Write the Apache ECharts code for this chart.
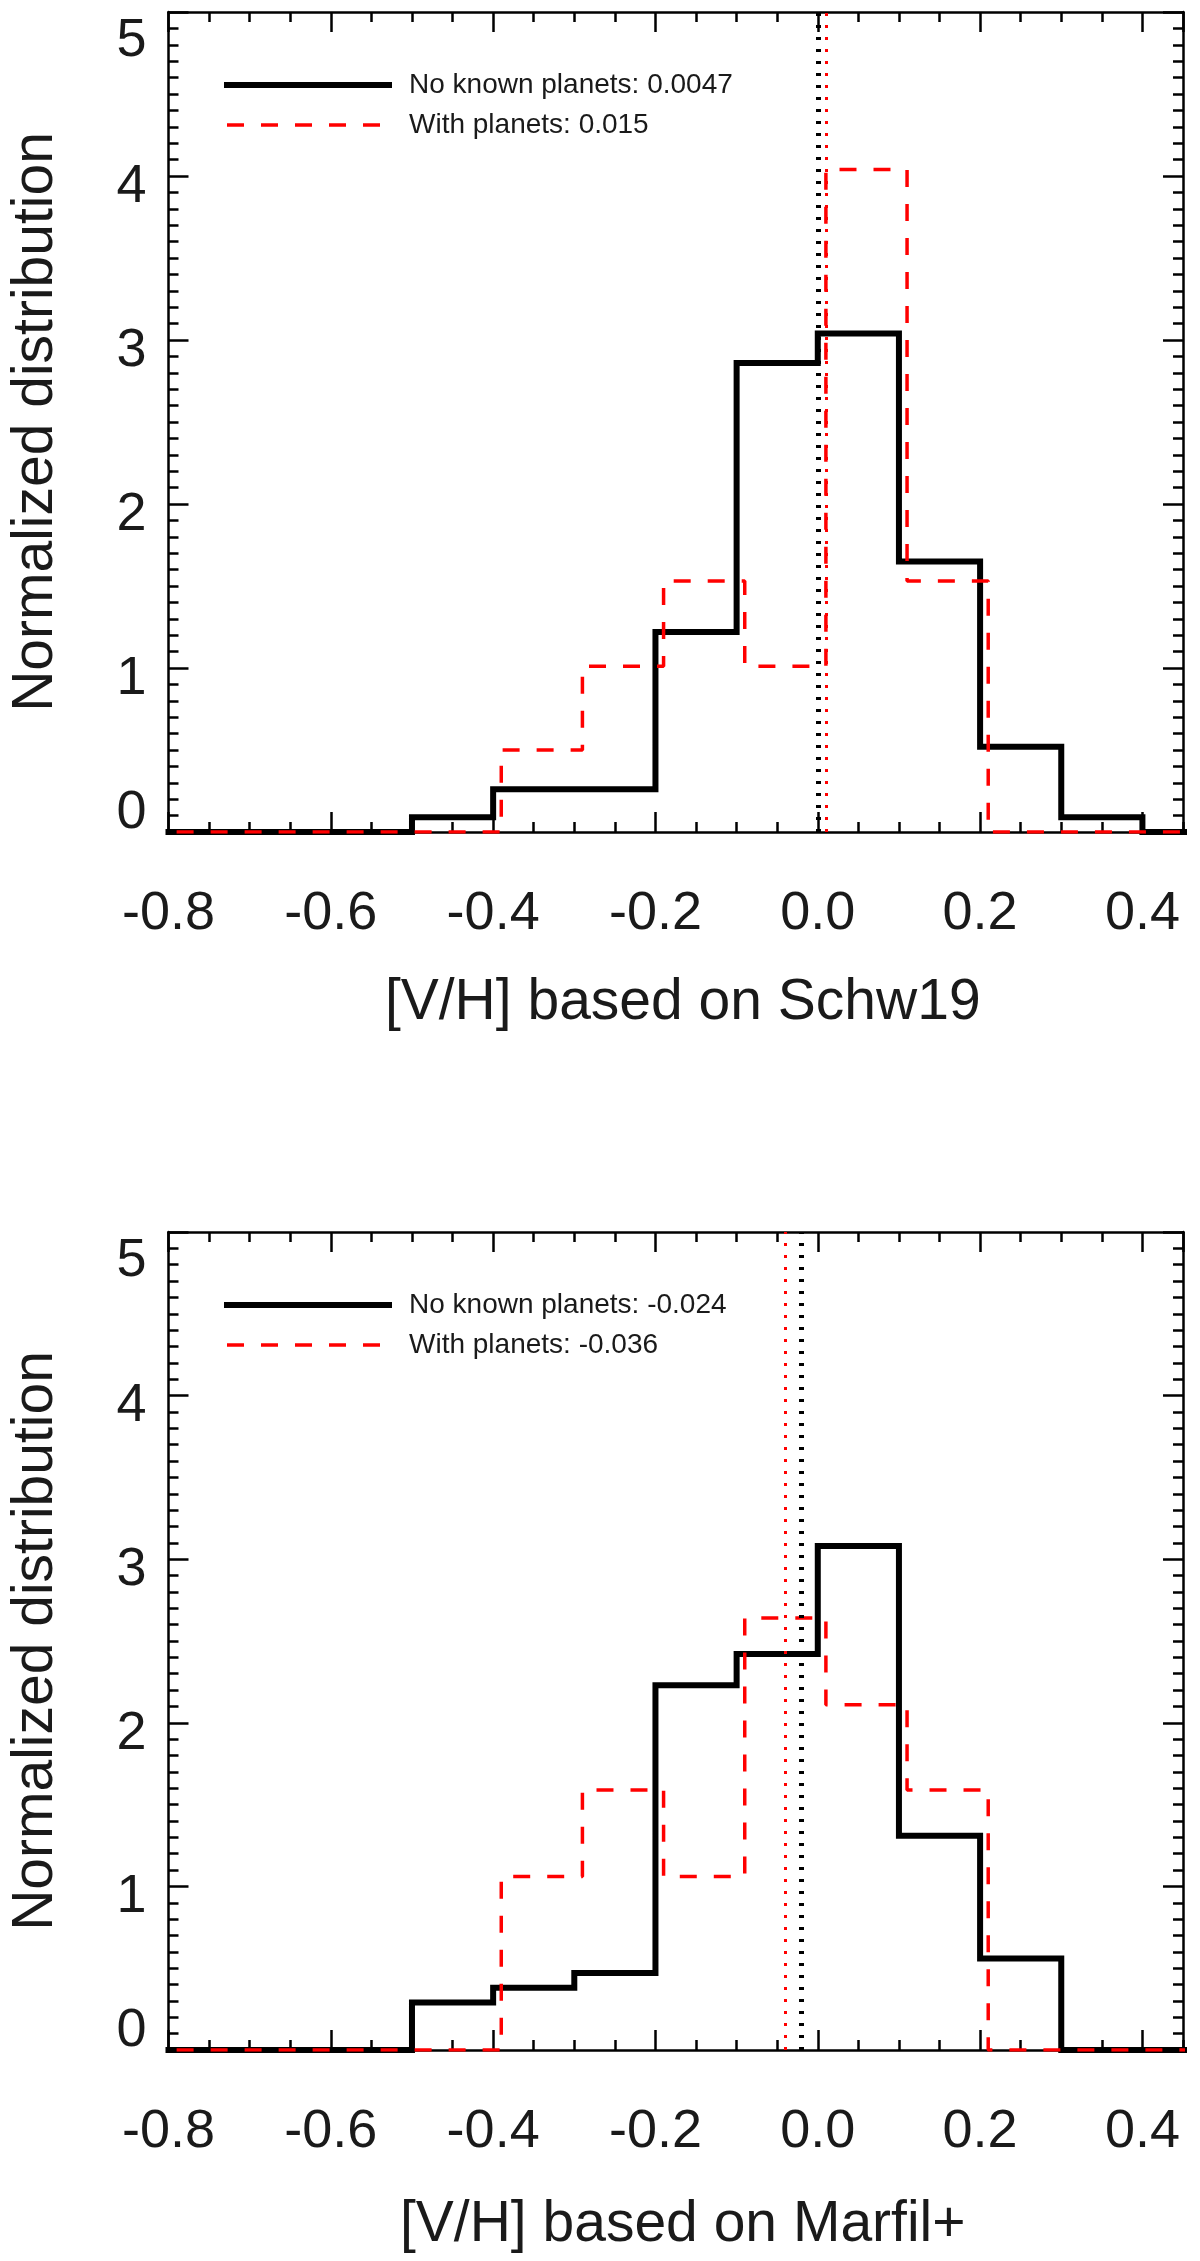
<!DOCTYPE html>
<html><head><meta charset="utf-8">
<script src="https://cdn.jsdelivr.net/npm/echarts@6/dist/echarts.min.js"></script>
<style>html,body{margin:0;padding:0;background:#fff}#c{width:1200px;height:2261px}</style>
</head><body><div id="c"></div>
<script>
// ---- data ----
const binLefts = [-0.8,-0.7,-0.6,-0.5,-0.4,-0.3,-0.2,-0.1,0.0,0.1,0.2,0.3,0.4];
const binWidth = 0.1;
const redShift = 0.01;
const schwNoPlanets   = [0,0,0,0.09,0.26,0.26,1.22,2.86,3.04,1.65,0.52,0.09,0];
const schwWithPlanets = [0,0,0,0,0.50,1.01,1.53,1.01,4.04,1.53,0,0,0];
const marfNoPlanets   = [0,0,0,0.29,0.38,0.47,2.23,2.42,3.08,1.31,0.56,0,0];
const marfWithPlanets = [0,0,0,0,1.06,1.59,1.06,2.64,2.11,1.59,0,0,0];
const meanNoPlanets   = [0.0047, -0.024];
const meanWithPlanets = [0.015, -0.036];
const legendNo   = ['No known planets: 0.0047', 'No known planets: -0.024'];
const legendWith = ['With planets: 0.015', 'With planets: -0.036'];
const xTitles = ['[V/H] based on Schw19', '[V/H] based on Marfil+'];
const yTitle = 'Normalized distribution';
const xMin = -0.8, xMax = 0.45, xMajor = 0.2, xMinor = 0.05;
const yMin = 0, yMax = 5, yMajor = 1;

// ---- build ----
const FONT = '"Liberation Sans", Arial, Helvetica, sans-serif';
const TXT = '#1a1a1a';
function histData(vals, shift) {
  const r = v => Math.round(v * 1000) / 1000;
  const pts = vals.map((v, i) => [r(binLefts[i] + shift), v]);
  pts.push([r(binLefts[binLefts.length - 1] + binWidth + shift), vals[vals.length - 1]]);
  return pts;
}
const panels = [
  {no: schwNoPlanets, wi: schwWithPlanets},
  {no: marfNoPlanets, wi: marfWithPlanets}
];
const grids = [
  {left: 161, top: 12, width: 1022, height: 820},
  {left: 161, top: 1232, width: 1022, height: 818}
];
const titleGaps = [171, 175];
const axLine = {show: true, onZero: false, lineStyle: {color: '#000', width: 2.5}};
const noLine = {show: false, onZero: false};
const xAxis = [], yAxis = [], series = [], legend = [];
panels.forEach((p, g) => {
  const base = {gridIndex: g, type: 'value', min: xMin, max: xMax, splitLine: {show: false}};
  xAxis.push(Object.assign({}, base, {
    position: 'bottom', interval: xMajor, axisLine: axLine,
    axisTick: {inside: true, length: 20, lineStyle: {color: '#000', width: 2.5}},
    axisLabel: {fontSize: 54, fontFamily: FONT, color: TXT, margin: 82, verticalAlign: 'middle',
      showMaxLabel: false, formatter: v => (v > 0.44 ? '' : v.toFixed(1))},
    name: xTitles[g], nameLocation: 'middle', nameGap: titleGaps[g],
    nameTextStyle: {fontSize: 57, fontFamily: FONT, color: TXT, verticalAlign: 'middle', padding: [0, 0, 0, 14]}
  }));
  xAxis.push(Object.assign({}, base, {
    position: 'bottom', interval: xMinor, axisLine: noLine,
    axisTick: {inside: true, length: 10, lineStyle: {color: '#000', width: 2.5}},
    axisLabel: {show: false}
  }));
  xAxis.push(Object.assign({}, base, {
    position: 'top', interval: xMajor, axisLine: axLine,
    axisTick: {inside: true, length: 20, lineStyle: {color: '#000', width: 2.5}},
    axisLabel: {show: false}
  }));
  xAxis.push(Object.assign({}, base, {
    position: 'top', interval: xMinor, axisLine: noLine,
    axisTick: {inside: true, length: 10, lineStyle: {color: '#000', width: 2.5}},
    axisLabel: {show: false}
  }));
  const ybase = {gridIndex: g, type: 'value', min: yMin, max: yMax, interval: yMajor, splitLine: {show: false},
    axisLine: axLine,
    axisTick: {inside: true, length: 20, lineStyle: {color: '#000', width: 2.5}},
    minorTick: {show: true, splitNumber: 10, length: 10, lineStyle: {color: '#000', width: 2.5}}};
  yAxis.push(Object.assign({}, ybase, {
    position: 'left',
    axisLabel: {fontSize: 54, fontFamily: FONT, color: TXT, margin: 22,
      formatter: v => v === yMax ? '{t|' + v + '}' : (v === yMin ? '{b|' + v + '}' : '{m|' + v + '}'),
      rich: {
        t: {fontSize: 54, fontFamily: FONT, color: TXT, padding: [58, 0, 0, 0]},
        m: {fontSize: 54, fontFamily: FONT, color: TXT, padding: [22, 0, 0, 0]},
        b: {fontSize: 54, fontFamily: FONT, color: TXT, padding: [0, 0, 38, 0]}
      }},
    name: yTitle, nameLocation: 'middle', nameGap: 132, nameRotate: 90,
    nameTextStyle: {fontSize: 57, fontFamily: FONT, color: TXT, verticalAlign: 'middle'}
  }));
  yAxis.push(Object.assign({}, ybase, {position: 'right', axisLabel: {show: false}}));

  series.push({
    name: legendNo[g], type: 'line', xAxisIndex: 4 * g, yAxisIndex: 2 * g,
    data: histData(p.no, 0), step: 'end', symbol: 'none', z: 3,
    lineStyle: {color: '#000', width: 6, join: 'miter', cap: 'square'}, itemStyle: {color: '#000'},
    markLine: {silent: true, symbol: ['none', 'none'], label: {show: false},
      lineStyle: {color: '#000', width: 5, type: [3, 9]}, data: [{xAxis: meanNoPlanets[g]}]}
  });
  series.push({
    name: legendWith[g], type: 'line', xAxisIndex: 4 * g, yAxisIndex: 2 * g,
    data: histData(p.wi, redShift), step: 'end', symbol: 'none', z: 4,
    lineStyle: {color: '#ff0000', width: 3.5, type: [17, 17]}, itemStyle: {color: '#ff0000'},
    markLine: {silent: true, symbol: ['none', 'none'], label: {show: false},
      lineStyle: {color: '#ff0000', width: 3, type: [3, 9]}, data: [{xAxis: meanWithPlanets[g]}]}
  });
  legend.push({
    data: [legendNo[g], legendWith[g]], orient: 'vertical', left: 224, top: grids[g].top + 59,
    padding: 0, itemWidth: 162, itemHeight: 20, itemGap: 12, selectedMode: false,
    lineStyle: {width: 'inherit', type: 'inherit'},
    itemStyle: {opacity: 0},
    textStyle: {fontSize: 28, fontFamily: FONT, color: TXT, padding: [0, 0, 0, 15]}
  });
});
const chart = echarts.init(document.getElementById('c'), null, {renderer: 'canvas'});
chart.setOption({
  backgroundColor: '#fff', animation: false,
  grid: grids, xAxis: xAxis, yAxis: yAxis, series: series, legend: legend
});
</script></body></html>
